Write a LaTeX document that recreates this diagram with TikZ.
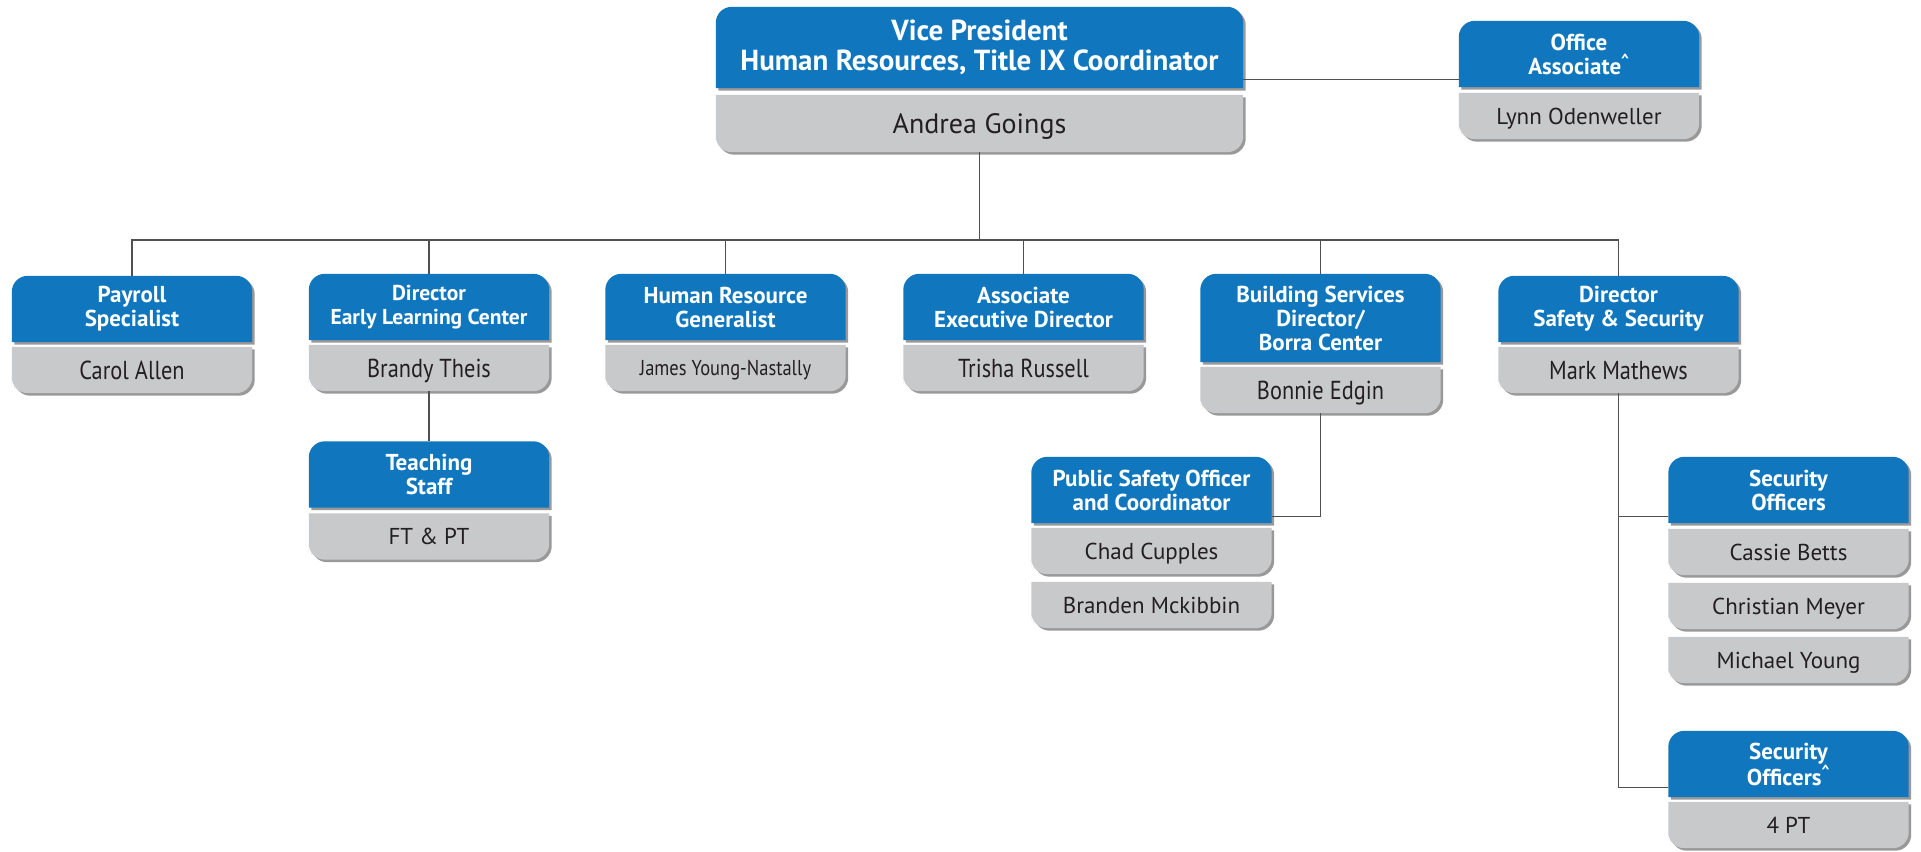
\documentclass[tikz,border=0pt]{standalone}
\usepackage{fontspec}
\setmainfont{PT Sans}
\newfontfamily\slimfont{PT Sans}[FakeStretch=0.86]
\usetikzlibrary{shadows,backgrounds}

\definecolor{hrblue}{RGB}{16,119,190}
\definecolor{hrgray}{RGB}{200,201,203}
\definecolor{hrink}{RGB}{35,31,32}
\definecolor{hrline}{RGB}{80,80,80}

\begin{document}
\begin{tikzpicture}[x=1pt, y=-1pt]
	\tikzset{
		rolebox/.style={minimum width=240pt, minimum height=66pt, inner sep=0pt, align=center, text=white, font=\bfseries\fontsize{23}{24}\selectfont},
		persbox/.style={minimum width=240pt, minimum height=46pt, inner sep=0pt, text depth=0pt, align=center, text=hrink, font=\fontsize{23}{26}\selectfont},
		slimtext/.style={font=\slimfont\fontsize{26}{28}\selectfont},
		bluecard/.style={fill=hrblue, drop shadow={shadow xshift=2.5pt, shadow yshift=-2.5pt, fill=black, opacity=0.4}},
		graycard/.style={fill=hrgray, drop shadow={shadow xshift=2.5pt, shadow yshift=-2.5pt, fill=black, opacity=0.4}},
		link/.style={draw=hrline, line width=1.3pt}
	}
	\useasboundingbox (0, 0) rectangle (1921, 851);

	% vice president and office
	\node[rolebox, minimum width=527pt, minimum height=81pt, font=\bfseries\fontsize{29}{30}\selectfont] (vp) at (979.5, 47.5) {Vice President\\Human Resources, Title IX Coordinator};
	\node[persbox, minimum width=527pt, minimum height=57pt, font=\fontsize{28}{30}\selectfont] (vpn) at (979.5, 123.5) {Andrea Goings};
	\node[rolebox] (ofc) at (1579, 54) {Office\\Associate\textsuperscript{\textasciicircum}};
	\node[persbox] (ofcn) at (1579, 116) {Lynn Odenweller};

	% second row
	\node[rolebox] (pay) at (132, 309) {Payroll\\Specialist};
	\node[persbox, slimtext] (payn) at (132, 370) {Carol Allen};
	\node[rolebox, font=\bfseries\fontsize{21.5}{24}\selectfont] (elc) at (429, 307) {Director\\Early Learning Center};
	\node[persbox, slimtext] (elcn) at (429, 368) {Brandy Theis};
	\node[rolebox] (hrg) at (725.5, 307) {Human Resource\\Generalist};
	\node[persbox, slimtext, font=\slimfont\fontsize{21.5}{24}\selectfont] (hrgn) at (725.5, 368) {James Young-Nastally};
	\node[rolebox] (aed) at (1023.5, 307) {Associate\\Executive Director};
	\node[persbox, slimtext] (aedn) at (1023.5, 368) {Trisha Russell};
	\node[rolebox, minimum height=88pt] (bs) at (1320.5, 318) {Building Services\\Director/\\Borra Center};
	\node[persbox, slimtext] (bsn) at (1320.5, 390) {Bonnie Edgin};
	\node[rolebox] (dss) at (1618.5, 309) {Director\\Safety \& Security};
	\node[persbox, slimtext] (dssn) at (1618.5, 370) {Mark Mathews};

	% lower boxes
	\node[rolebox] (tch) at (429, 474.5) {Teaching\\Staff};
	\node[persbox] (tchn) at (429, 536.5) {FT \& PT};
	\node[rolebox] (pso) at (1151.5, 490) {Public Safety Officer\\and Coordinator};
	\node[persbox] (psoa) at (1151.5, 551) {Chad Cupples};
	\node[persbox] (psob) at (1151.5, 605) {Branden Mckibbin};
	\node[rolebox] (soa) at (1788.5, 490) {Security\\Officers};
	\node[persbox] (soaa) at (1788.5, 552) {Cassie Betts};
	\node[persbox] (soab) at (1788.5, 606) {Christian Meyer};
	\node[persbox] (soac) at (1788.5, 660) {Michael Young};
	\node[rolebox] (sob) at (1788.5, 764) {Security\\Officers\textsuperscript{\textasciicircum}};
	\node[persbox] (soba) at (1788.5, 825) {4 PT};

	% card backgrounds
	\begin{pgfonlayer}{background}
		\fill[white] (0, 0) rectangle (1921, 851);
		\foreach \n in {vp, ofc, pay, elc, hrg, aed, bs, dss, tch, pso, soa, sob}
			\fill[bluecard] (\n.south east) -- (\n.south west) -- (\n.west) [rounded corners=16pt] -- (\n.north west) -- (\n.north east) -- (\n.east) [sharp corners] -- cycle;
		\foreach \n in {vpn, ofcn, payn, elcn, hrgn, aedn, bsn, dssn, tchn, psoa, psob, soaa, soab, soac, soba}
			\fill[graycard] (\n.north west) -- (\n.north east) -- (\n.east) [rounded corners=16pt] -- (\n.south east) -- (\n.south west) -- (\n.west) [sharp corners] -- cycle;
	\end{pgfonlayer}

	% lines
	\coordinate (bus) at (979.5, 240);
	\draw[link] ([yshift=9pt]vp.south east) -- ([yshift=9pt]vp.south east -| ofc.west);
	\draw[link] (vpn.south) -- (bus);
	\draw[link] (pay.north) |- (bus) -| (dss.north);
	\foreach \n in {elc, hrg, aed, bs}
		\draw[link] (\n.north) -- (\n.north |- bus);

	\draw[link] (elcn.south) -- (tch.north);
	\draw[link] (bsn.south) |- ([yshift=7pt]pso.south east);
	\draw[link] (dssn.south) |- ([yshift=7pt]soa.south west);
	\draw[link] (dssn.south) |- ([yshift=10pt]sob.south west);
\end{tikzpicture}
\end{document}
